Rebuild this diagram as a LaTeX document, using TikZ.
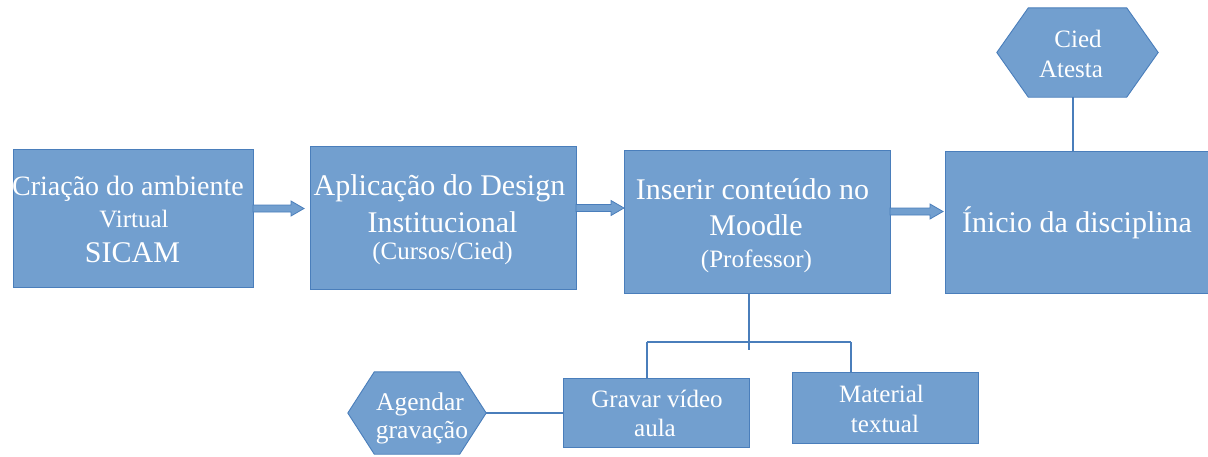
\documentclass[tikz,border=0pt]{standalone}
\usepackage{fontspec}
\setmainfont{Liberation Serif}
\usetikzlibrary{calc}
\definecolor{boxfill}{HTML}{729FCF}
\definecolor{boxline}{HTML}{4A7EBB}
\newcommand\fsz[1]{\fontsize{#1}{#1}\selectfont}
\newcommand\blockarrow[2]{%
  \draw[arrowsty] let \p1=(#1), \p2=(#2) in
    (\x1,\y1+3.5pt) -- (\x2-13pt,\y1+3.5pt) -- (\x2-13pt,\y1+7.5pt) -- (\x2,\y1)
    -- (\x2-13pt,\y1-7.5pt) -- (\x2-13pt,\y1-3.5pt) -- (\x1,\y1-3.5pt) -- cycle;}
% hexagon outline around a named (invisible) node: #1 name, #2 chamfer width
\newcommand\hexoutline[2]{%
  \draw[hexsty] (#1.west) -- ([xshift=#2]#1.north west) -- ([xshift=-#2]#1.north east)
    -- (#1.east) -- ([xshift=-#2]#1.south east) -- ([xshift=#2]#1.south west) -- cycle;}
\tikzset{
  box/.style={draw=boxline, fill=boxfill, line width=0.9pt, rectangle, inner sep=0pt},
  hexnode/.style={rectangle, inner sep=0pt, draw=none},
  hexsty/.style={draw=boxline, fill=boxfill, line width=0.9pt, line join=miter},
  txt/.style={anchor=base, inner sep=0pt, text=white},
  conn/.style={draw=boxline, line width=1.1pt},
  arrowsty/.style={draw=boxline, fill=boxfill, line width=0.8pt, line join=miter},
}
\begin{document}
\begin{tikzpicture}[x=1pt, y=-1pt]
\useasboundingbox (0,0) rectangle (1208,456);
% boxes
\node[box, minimum width=240, minimum height=138] (b1) at (133,218) {};
\node[box, minimum width=266, minimum height=143] (b2) at (443,217.5) {};
\node[box, minimum width=266, minimum height=143] (b3) at (757,221.5) {};
\node[box, minimum width=265, minimum height=142] (b4) at (1077.5,222) {};
\node[box, minimum width=186, minimum height=69] (gr) at (656,412.5) {};
\node[box, minimum width=186, minimum height=71] (mt) at (885,407.5) {};
\node[hexnode, minimum width=138, minimum height=82] (ag) at (417,413) {};
\hexoutline{ag}{26.5pt}
\node[hexnode, minimum width=161, minimum height=89] (ci) at (1077.5,52.5) {};
\hexoutline{ci}{31.5pt}
% texts
\node[txt, font=\fsz{28}] (t1a) at (128,195) {Criação do ambiente};
\node[txt, font=\fsz{25}] (t1b) at (134,227) {Virtual};
\node[txt, font=\fsz{30}] (t1c) at (132.5,262) {SICAM};
\node[txt, font=\fsz{30}] (t2a) at (439.5,195) {Aplicação do Design};
\node[txt, font=\fsz{30}] (t2b) at (442.5,232) {Institucional};
\node[txt, font=\fsz{25}] (t2c) at (442.5,259) {(Cursos/Cied)};
\node[txt, font=\fsz{30}] (t3a) at (752.5,199) {Inserir conteúdo no};
\node[txt, font=\fsz{30}] (t3b) at (756,235) {Moodle};
\node[txt, font=\fsz{25}] (t3c) at (756.5,267) {(Professor)};
\node[txt, font=\fsz{30}] (t4a) at (1077,232) {Ínicio da disciplina};
\node[txt, font=\fsz{25}] (tga) at (657,407) {Gravar vídeo};
\node[txt, font=\fsz{25}] (tgb) at (655,436) {aula};
\node[txt, font=\fsz{25}] (tma) at (881.5,402) {Material};
\node[txt, font=\fsz{25}] (tmb) at (885,432) {textual};
\node[txt, font=\fsz{25.5}] (taa) at (420,410) {Agendar};
\node[txt, font=\fsz{25.5}] (tab) at (422,438) {gravação};
\node[txt, font=\fsz{25}] (tca) at (1078,47) {Cied};
\node[txt, font=\fsz{25}] (tcb) at (1071,77) {Atesta};
% block arrows
\coordinate (a1s) at (253,208.5); \coordinate (a1e) at (304,208.5);
\coordinate (a2s) at (576,208);   \coordinate (a2e) at (624,208);
\coordinate (a3s) at (890,211.5); \coordinate (a3e) at (943,211.5);
\blockarrow{a1s}{a1e}
\blockarrow{a2s}{a2e}
\blockarrow{a3s}{a3e}
% connectors
\coordinate (j) at (749,342);
\coordinate (jl) at (647,342);
\coordinate (jr) at (851,342);
\coordinate (cx) at (1073,0);
\draw[conn] (b3.south -| j) -- ($(j)+(0,8)$);
\draw[conn] (jl) -- (jr);
\draw[conn] (jl) -- (jl |- gr.north);
\draw[conn] (jr) -- (jr |- mt.north);
\draw[conn] (ag.east) -- (ag.east -| gr.west);
\draw[conn] (cx |- ci.south) -- (cx |- b4.north);
\end{tikzpicture}
\end{document}
